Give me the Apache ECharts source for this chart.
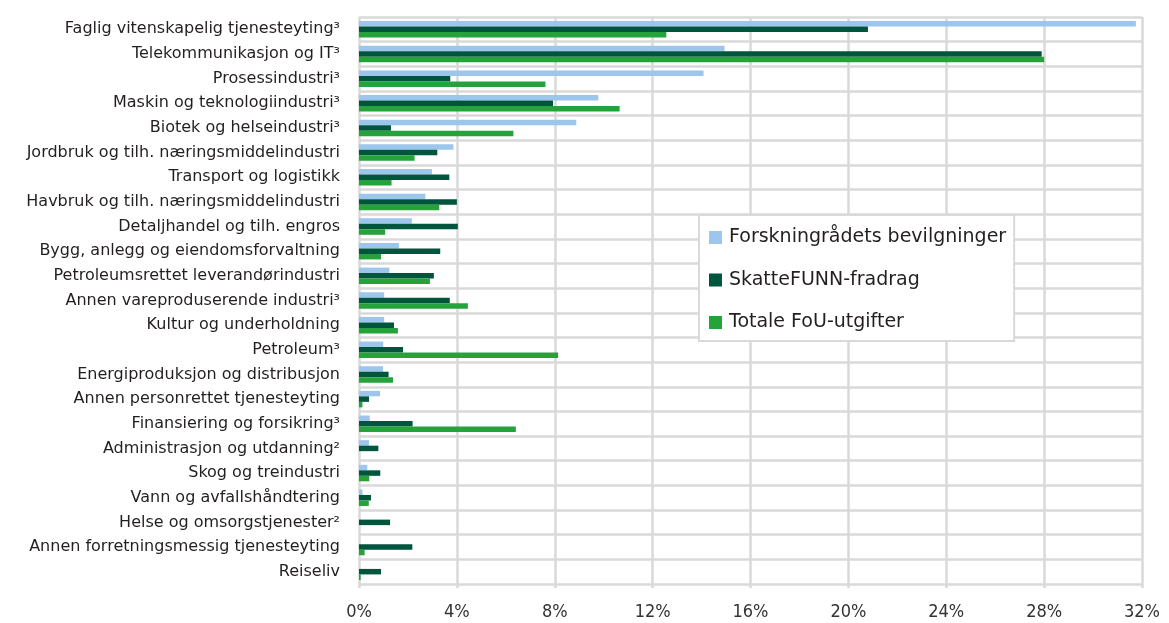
<!DOCTYPE html>
<html>
<head>
<meta charset="utf-8">
<script src="https://cdn.jsdelivr.net/npm/echarts@6/dist/echarts.min.js"></script>
<style>
html,body{margin:0;padding:0;background:#fff;}
#c{width:1169px;height:623px;}
</style>
</head>
<body>
<div id="c"></div>
<script>
const categories = [
  "Faglig vitenskapelig tjenesteyting³",
  "Telekommunikasjon og IT³",
  "Prosessindustri³",
  "Maskin og teknologiindustri³",
  "Biotek og helseindustri³",
  "Jordbruk og tilh. næringsmiddelindustri",
  "Transport og logistikk",
  "Havbruk og tilh. næringsmiddelindustri",
  "Detaljhandel og tilh. engros",
  "Bygg, anlegg og eiendomsforvaltning",
  "Petroleumsrettet leverandørindustri",
  "Annen vareproduserende industri³",
  "Kultur og underholdning",
  "Petroleum³",
  "Energiproduksjon og distribusjon",
  "Annen personrettet tjenesteyting",
  "Finansiering og forsikring³",
  "Administrasjon og utdanning²",
  "Skog og treindustri",
  "Vann og avfallshåndtering",
  "Helse og omsorgstjenester²",
  "Annen forretningsmessig tjenesteyting",
  "Reiseliv"
];
const seriesNames = ["Forskningrådets bevilgninger", "SkatteFUNN-fradrag", "Totale FoU-utgifter"];
const forskningsradet = [31.75, 14.94, 14.08, 9.78, 8.88, 3.86, 2.98, 2.71, 2.16, 1.63, 1.24, 1.03, 1.03, 0.99, 0.98, 0.86, 0.44, 0.41, 0.34, 0.14, 0, 0, 0];
const skattefunn = [20.8, 27.9, 3.73, 7.93, 1.31, 3.2, 3.69, 4.0, 4.04, 3.32, 3.06, 3.71, 1.43, 1.8, 1.21, 0.41, 2.19, 0.79, 0.87, 0.49, 1.27, 2.18, 0.9];
const fouUtgifter = [12.56, 28.0, 7.62, 10.65, 6.31, 2.27, 1.33, 3.28, 1.07, 0.9, 2.9, 4.45, 1.59, 8.14, 1.39, 0.14, 6.41, 0, 0.42, 0.4, 0, 0.23, 0.07];
const xTicks = { min: 0, max: 32, interval: 4 };

const colors = ["#9dc6ec", "#00553d", "#26a23a"];
const gridColor = "#d9d9d9";

const chart = echarts.init(document.getElementById('c'));
chart.setOption({
  animation: false,
  backgroundColor: '#ffffff',
  color: colors,
  textStyle: { fontFamily: 'DejaVu Sans' },
  grid: { left: 359, right: 27, top: 17, bottom: 39, containLabel: false },
  legend: {
    orient: 'vertical',
    left: 699,
    top: 215,
    padding: [13, 8, 9, 10],
    itemWidth: 13,
    itemHeight: 13,
    itemGap: 23.5,
    icon: 'rect',
    backgroundColor: '#ffffff',
    borderColor: gridColor,
    borderWidth: 2,
    textStyle: { fontSize: 19, color: '#231f20', fontFamily: 'DejaVu Sans', padding: [0, 0, 0, 2] },
    data: seriesNames
  },
  xAxis: {
    type: 'value',
    min: xTicks.min,
    max: xTicks.max,
    interval: xTicks.interval,
    axisLine: { show: false },
    axisTick: { show: true, length: 4, lineStyle: { color: gridColor, width: 2.5 } },
    splitLine: { show: true, lineStyle: { color: gridColor, width: 2.5 } },
    axisLabel: {
      formatter: '{value}%',
      fontSize: 18,
      color: '#333',
      margin: 19,
      fontFamily: 'Liberation Sans Narrow, DejaVu Sans Condensed, DejaVu Sans'
    }
  },
  yAxis: {
    type: 'category',
    inverse: true,
    data: categories,
    axisLine: { show: false },
    axisTick: { show: false },
    splitLine: { show: true, lineStyle: { color: gridColor, width: 2.5 } },
    axisLabel: { fontSize: 16, color: '#231f20', margin: 19, fontFamily: 'DejaVu Sans', interval: 0 }
  },
  series: [
    { name: seriesNames[0], type: 'bar', data: forskningsradet, barWidth: 5.5, barGap: '0%' },
    { name: seriesNames[1], type: 'bar', data: skattefunn, barWidth: 5.5, barGap: '0%' },
    { name: seriesNames[2], type: 'bar', data: fouUtgifter, barWidth: 5.5, barGap: '0%' }
  ]
});
</script>
</body>
</html>
